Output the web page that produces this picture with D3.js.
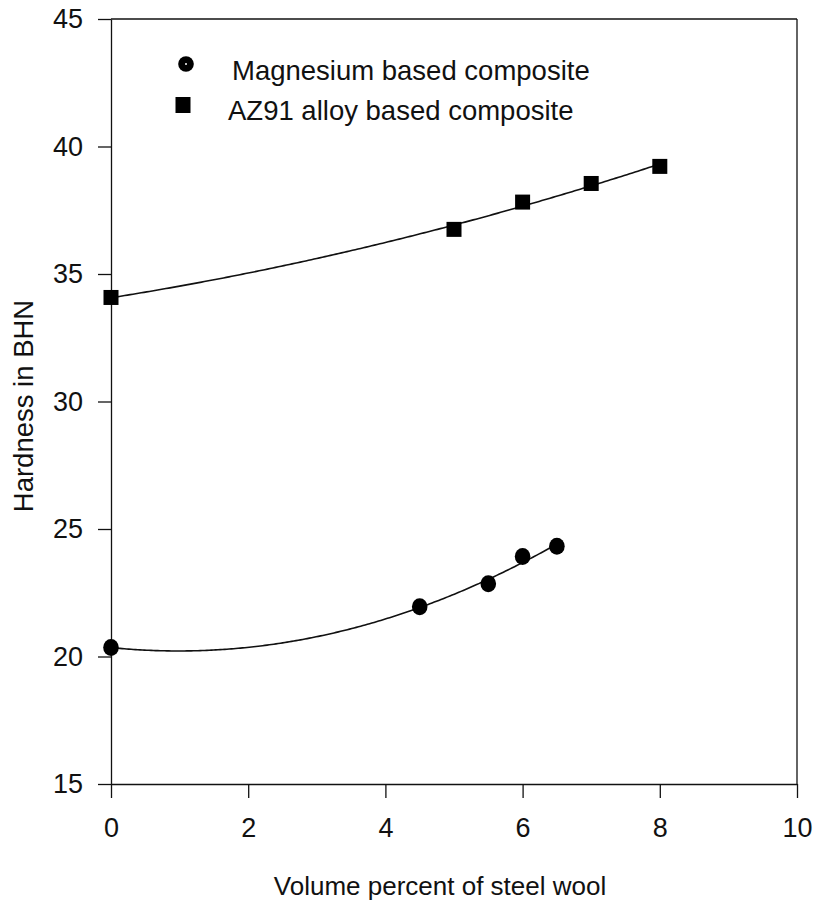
<!DOCTYPE html>
<html>
<head>
<meta charset="utf-8">
<script src="https://cdn.jsdelivr.net/npm/d3@7"></script>
<style>
  html, body { margin: 0; padding: 0; background: #fff; }
  text { font-family: Arial, "Liberation Sans", sans-serif; fill: #111; }
</style>
</head>
<body>
<svg id="chart" width="817" height="904"></svg>
<script>
// ---- data ----
const xTicks = [0, 2, 4, 6, 8, 10];
const yTicks = [15, 20, 25, 30, 35, 40, 45];
const mgX = [0, 4.5, 5.5, 6, 6.5];
const mgY = [20.35, 21.95, 22.85, 23.92, 24.32];
const azX = [0, 5, 6, 7, 8];
const azY = [34.08, 36.75, 37.82, 38.55, 39.22];
const seriesNames = ["Magnesium based composite", "AZ91 alloy based composite"];
const xTitle = "Volume percent of steel wool";
const yTitle = "Hardness in BHN";

// ---- layout ----
const svg = d3.select("#chart");
const L = 111, R = 797, T = 19, B = 784;
const x = d3.scaleLinear().domain([0, 10]).range([L, R]);
const y = d3.scaleLinear().domain([15, 45]).range([B, T]);

// quadratic least squares fit (regression curve, as in the original)
function quadFit(xs, ys) {
  let n = xs.length, s = [0,0,0,0,0], t = [0,0,0];
  for (let i = 0; i < n; i++) {
    let p = 1;
    for (let k = 0; k < 5; k++) { s[k] += p; if (k < 3) t[k] += p * ys[i]; p *= xs[i]; }
  }
  const A = [[s[0], s[1], s[2], t[0]], [s[1], s[2], s[3], t[1]], [s[2], s[3], s[4], t[2]]];
  for (let i = 0; i < 3; i++) {
    for (let j = i + 1; j < 3; j++) {
      const f = A[j][i] / A[i][i];
      for (let k = i; k < 4; k++) A[j][k] -= f * A[i][k];
    }
  }
  const c = [0, 0, 0];
  for (let i = 2; i >= 0; i--) {
    let v = A[i][3];
    for (let k = i + 1; k < 3; k++) v -= A[i][k] * c[k];
    c[i] = v / A[i][i];
  }
  return v => c[0] + c[1] * v + c[2] * v * v;
}

// axes
const gx = svg.append("g").attr("transform", `translate(0,${B})`)
  .call(d3.axisBottom(x).tickValues(xTicks).tickSize(14).tickSizeOuter(0).tickPadding(20).tickFormat(d3.format("d")));
const gy = svg.append("g").attr("transform", `translate(${L},0)`)
  .call(d3.axisLeft(y).tickValues(yTicks).tickSize(13).tickSizeOuter(0).tickPadding(15).tickFormat(d3.format("d")));
[gx, gy].forEach(g => {
  g.selectAll("path, line").attr("stroke", "#111").attr("stroke-width", 1.3);
  g.selectAll("text").attr("font-size", 27).attr("fill", "#111")
    .attr("font-family", "Arial, 'Liberation Sans', sans-serif");
});
// frame top & right
svg.append("line").attr("x1", L).attr("x2", R).attr("y1", T).attr("y2", T).attr("stroke", "#111").attr("stroke-width", 1.3);
svg.append("line").attr("x1", R).attr("x2", R).attr("y1", T).attr("y2", B).attr("stroke", "#111").attr("stroke-width", 1.3);

// fitted curves
function drawFit(xs, ys) {
  const f = quadFit(xs, ys);
  const pts = d3.range(0, 201).map(i => {
    const v = d3.min(xs) + (d3.max(xs) - d3.min(xs)) * i / 200;
    return [v, f(v)];
  });
  svg.append("path").datum(pts)
    .attr("d", d3.line().x(d => x(d[0])).y(d => y(d[1])))
    .attr("fill", "none").attr("stroke", "#111").attr("stroke-width", 1.6);
}
drawFit(mgX, mgY);
drawFit(azX, azY);

// markers
svg.append("g").selectAll("ellipse").data(mgX.map((v, i) => [v, mgY[i]])).join("ellipse")
  .attr("cx", d => x(d[0])).attr("cy", d => y(d[1])).attr("rx", 7.8).attr("ry", 8.5).attr("fill", "#000");
svg.append("g").selectAll("rect").data(azX.map((v, i) => [v, azY[i]])).join("rect")
  .attr("x", d => x(d[0]) - 7.5).attr("y", d => y(d[1]) - 7.5).attr("width", 15).attr("height", 15).attr("fill", "#000");

// legend
svg.append("circle").attr("cx", 186).attr("cy", 64).attr("r", 7.8).attr("fill", "#000");
svg.append("circle").attr("cx", 186).attr("cy", 64).attr("r", 1).attr("fill", "#fff");
svg.append("rect").attr("x", 175.5).attr("y", 97).attr("width", 15).attr("height", 16).attr("fill", "#000");
svg.append("text").attr("x", 232).attr("y", 80).attr("font-size", 27.5).text(seriesNames[0]);
svg.append("text").attr("x", 228).attr("y", 120).attr("font-size", 27.5).text(seriesNames[1]);

// axis titles
svg.append("text").attr("x", 440).attr("y", 895).attr("text-anchor", "middle").attr("font-size", 26).text(xTitle);
svg.append("text").attr("transform", "translate(33,406) rotate(-90)").attr("text-anchor", "middle")
  .attr("font-size", 27.5).text(yTitle);
</script>
</body>
</html>
